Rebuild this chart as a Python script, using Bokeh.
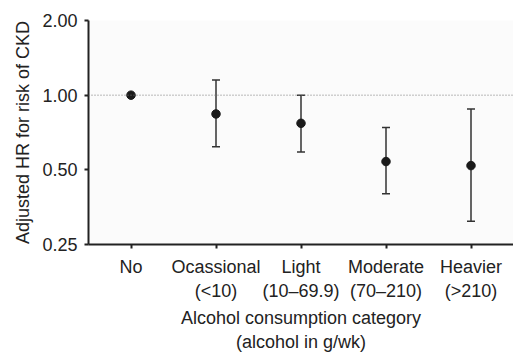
from bokeh.plotting import figure
from bokeh.models import FactorRange, Range1d, FixedTicker, PrintfTickFormatter, Span, ColumnDataSource
from bokeh.embed import file_html
from bokeh.resources import INLINE

categories = ["No", "Ocassional\n(<10)", "Light\n(10\u201369.9)", "Moderate\n(70\u2013210)", "Heavier\n(>210)"]
hr = [1.00, 0.84, 0.77, 0.54, 0.52]
ci_lower = [None, 0.62, 0.59, 0.40, 0.31]
ci_upper = [None, 1.15, 1.00, 0.74, 0.88]
y_ticks = [0.25, 0.5, 1.0, 2.0]

FONT = "Liberation Sans"
TXT = "#222222"

p = figure(width=513, height=358,
           x_range=FactorRange(*categories, range_padding=0),
           y_range=Range1d(0.25, 2.0), y_axis_type="log",
           output_backend="svg", toolbar_location=None,
           min_border_left=88, min_border_right=0, min_border_top=20, min_border_bottom=114)
p.outline_line_color = None
p.background_fill_color = "#fbfbfb"
p.border_fill_color = "white"
p.xgrid.visible = False
p.ygrid.visible = False

# reference line
p.add_layout(Span(location=1.0, dimension="width", line_color="#777777",
                  line_dash="1 2", line_width=1))

# error bars
ci_cats = [c for c, l in zip(categories, ci_lower) if l is not None]
ci_lo = [l for l in ci_lower if l is not None]
ci_hi = [u for u in ci_upper if u is not None]
src_ci = ColumnDataSource(dict(x=ci_cats, lo=ci_lo, hi=ci_hi))
p.segment(x0="x", x1="x", y0="lo", y1="hi", source=src_ci, line_color="#333333", line_width=1.5)
p.scatter(x="x", y="lo", source=src_ci, marker="dash", size=8, line_color="#333333", line_width=1.5)
p.scatter(x="x", y="hi", source=src_ci, marker="dash", size=8, line_color="#333333", line_width=1.5)

# points
src = ColumnDataSource(dict(x=categories, y=hr))
p.scatter(x="x", y="y", source=src, size=8.5, fill_color="#1a1a1a", line_color="#1a1a1a")

for ax in (p.xaxis[0], p.yaxis[0]):
    ax.axis_line_width = 2
    ax.axis_line_color = "#222222"
    ax.major_tick_line_color = "#222222"
    ax.major_tick_line_width = 2
    ax.major_tick_in = 0
    ax.major_tick_out = 4
    ax.minor_tick_line_color = None
    ax.major_label_text_font = FONT
    ax.major_label_text_font_size = "18px"
    ax.major_label_text_color = TXT
    ax.axis_label_text_font = FONT
    ax.axis_label_text_font_size = "18px"
    ax.axis_label_text_font_style = "normal"
    ax.axis_label_text_color = TXT

p.yaxis.ticker = FixedTicker(ticks=y_ticks)
p.yaxis.formatter = PrintfTickFormatter(format="%.2f")
p.yaxis.major_label_standoff = 7
p.yaxis.axis_label = "Adjusted HR for risk of CKD"
p.yaxis.axis_label_standoff = 6

p.xaxis.major_label_standoff = 8
p.xaxis.axis_label = "Alcohol consumption category\n(alcohol in g/wk)"
p.xaxis.axis_label_standoff = 4

open("out.html", "w").write(file_html(p, INLINE))
